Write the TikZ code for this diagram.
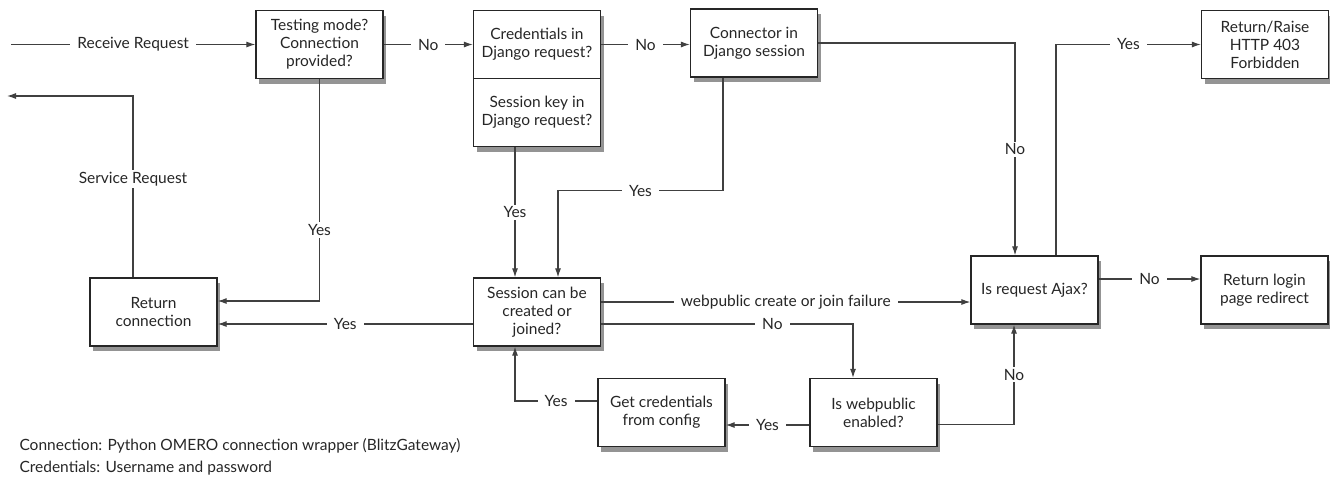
\documentclass[tikz,border=0pt]{standalone}
\usepackage{fontspec}
\setmainfont{Lato}
\usetikzlibrary{arrows.meta, positioning, shadows}

\begin{document}
\begin{tikzpicture}[x=1pt, y=-1pt,
    box/.style={rectangle, draw=black!85, line width=1.3pt, fill=white, minimum width=127pt, minimum height=68pt, align=center, font=\fontsize{15.5}{18}\selectfont, text=black!85, drop shadow={shadow xshift=3pt, shadow yshift=-5pt, fill=black!70, opacity=0.6}},
    flow/.style={draw=black!75, line width=1.1pt, -{Latex[length=9pt, width=6pt]}},
    lbl/.style={fill=white, inner xsep=7pt, inner ysep=2pt, font=\fontsize{15.5}{18}\selectfont, text=black!85},
    note/.style={anchor=west, font=\fontsize{15.5}{18}\selectfont, text=black!85}
]
    \useasboundingbox (0,0) rectangle (1330,488);

    % Decision and action boxes
    \node[box] (testing) at (319.5,44.5) {Testing mode?\\Connection\\provided?};
    \node[box] (cred) at (537,44.5) {Credentials in\\Django request?};
    \node[box] (sesskey) at (537,112.5) {Session key in\\Django request?};
    \node[box] (connector) at (754,43) {Connector in\\Django session};
    \node[box] (forbidden) at (1265,44.5) {Return/Raise\\HTTP 403\\Forbidden};
    \node[box] (retconn) at (153.5,312) {Return\\connection};
    \node[box] (session) at (537,312) {Session can be\\created or\\joined?};
    \node[box] (ajax) at (1034.5,290) {Is request Ajax?};
    \node[box] (login) at (1264.5,290) {Return login\\page redirect};
    \node[box] (getcred) at (661.5,412.5) {Get credentials\\from config};
    \node[box] (webpub) at (873.5,412.5) {Is webpublic\\enabled?};

    % Entry and exit
    \coordinate (in) at (11,44.5);
    \coordinate (out) at (7,96);
    \draw[flow] (in) -- node[lbl] {Receive Request} (testing);
    \draw[flow] ([xshift=-20.5pt]retconn.north) |- node[lbl, pos=0.27] {Service Request} (out);

    % Top row
    \draw[flow] (testing) -- node[lbl] {No} (cred);
    \draw[flow] (cred.east) -- node[lbl] {No} (cred.east -| connector.west);
    \draw[flow] (connector.east) -| node[lbl, pos=0.75] {No} ([xshift=-19.5pt]ajax.north);
    \draw[flow] ([xshift=21.5pt]ajax.north) |- node[lbl, pos=0.75] {Yes} (forbidden.west);

    % Down to the session
    \draw[flow] (testing.south) |- node[lbl, pos=0.34] {Yes} ([yshift=11pt]retconn.east);
    \draw[flow] ([xshift=-22pt]sesskey.south) -- node[lbl] {Yes} ([xshift=-22pt]session.north);
    \draw[flow] ([xshift=-31pt]connector.south) -- ++(0,113) -| node[lbl, pos=0.25] {Yes} ([xshift=21pt]session.north);

    % Session outcomes
    \draw[flow] ([yshift=-12pt]session.west) -- node[lbl] {Yes} ([yshift=-12pt]retconn.east);
    \draw[flow] ([yshift=10pt]session.east) -- node[lbl] {webpublic create or join failure} ([yshift=10pt]session.east -| ajax.west);
    \draw[flow] ([yshift=-12pt]session.east) -| node[lbl, pos=0.34] {No} ([xshift=-20.5pt]webpub.north);

    % Webpublic branch
    \draw[flow] ([yshift=-12.5pt]webpub.west) -- node[lbl] {Yes} ([yshift=-12.5pt]getcred.east);
    \draw[flow] ([yshift=11.5pt]getcred.west) -| node[lbl, pos=0.25] {Yes} ([xshift=-22pt]session.south);
    \draw[flow] ([yshift=-12pt]webpub.east) -| node[lbl, pos=0.75] {No} ([xshift=-20.5pt]ajax.south);
    \draw[flow] ([yshift=11pt]ajax.east) -- node[lbl] {No} ([yshift=11pt]login.west);

    % Notes
    \node[note] (note1) at (16,446) {Connection: Python OMERO connection wrapper (BlitzGateway)};
    \node[note] (note2) at (16,468) {Credentials: Username and password};
\end{tikzpicture}
\end{document}
